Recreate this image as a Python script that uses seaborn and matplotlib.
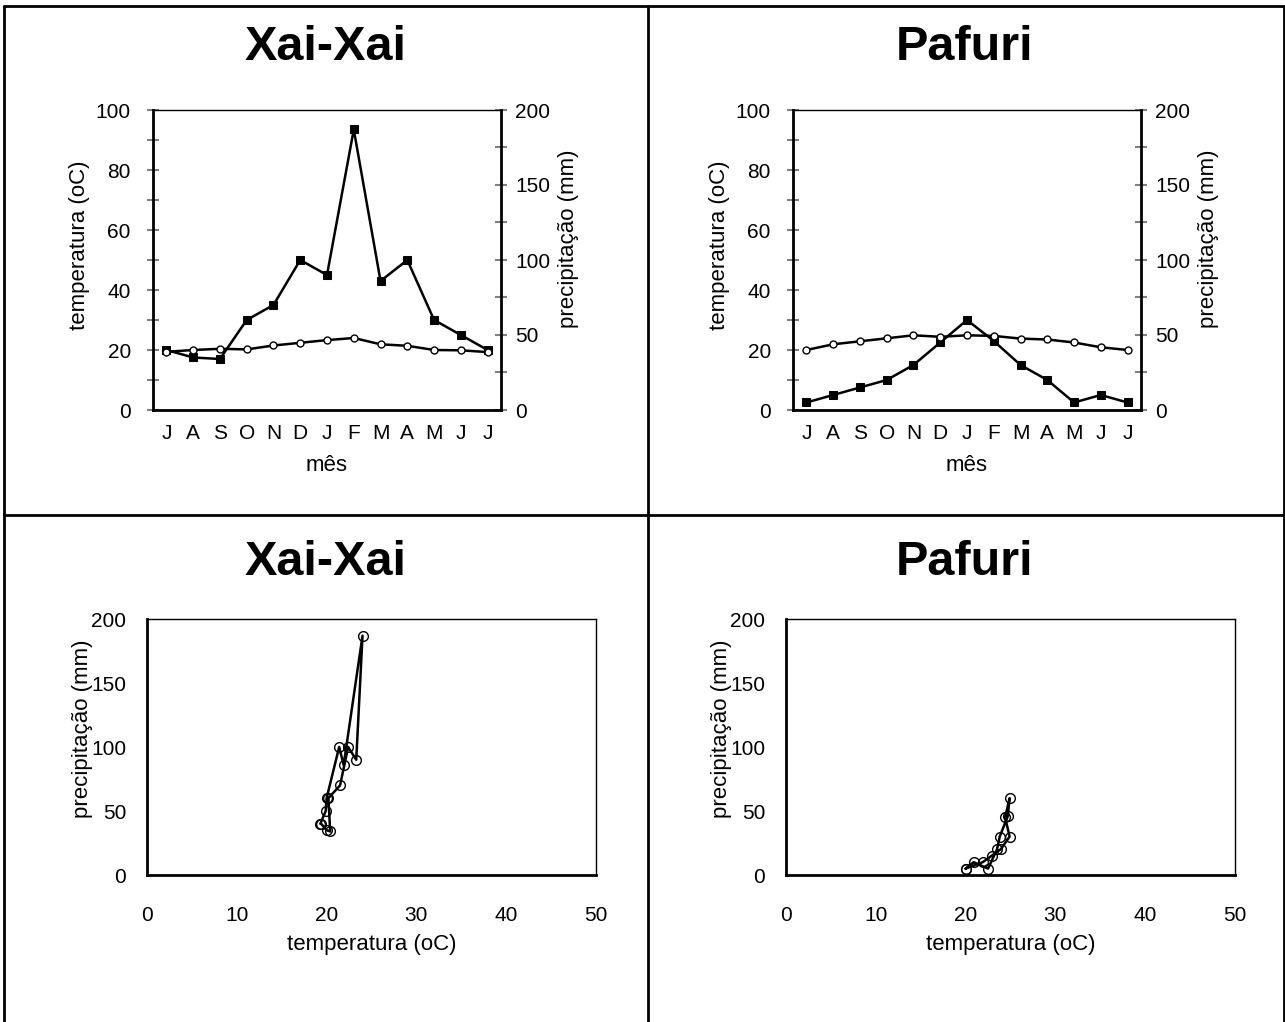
import numpy as np
import pandas as pd
import matplotlib
matplotlib.use("Agg")
import matplotlib.pyplot as plt
from matplotlib.lines import Line2D
from matplotlib.ticker import MultipleLocator
import seaborn as sns

# ---- data ----
months = ['J', 'A', 'S', 'O', 'N', 'D', 'J', 'F', 'M', 'A', 'M', 'J', 'J']
xai_temp = [19.4, 20.0, 20.4, 20.2, 21.5, 22.4, 23.3, 24.0, 21.9, 21.4, 20.0, 19.9, 19.3]
xai_prec = [40, 35, 34, 60, 70, 100, 90, 187, 86, 100, 60, 50, 40]
paf_temp = [20.0, 21.9, 22.9, 23.9, 24.9, 24.4, 24.9, 24.7, 23.8, 23.5, 22.5, 20.9, 20.0]
paf_prec = [5, 10, 15, 20, 30, 45, 60, 46, 30, 20, 5, 10, 5]
stations = ['Xai-Xai', 'Pafuri']
temp_label = 'temperatura (oC)'
prec_label = 'precipitação (mm)'
month_label = 'mês'

sns.set_style("white")
plt.rcParams['font.family'] = ['Liberation Sans', 'DejaVu Sans']
plt.rcParams['text.color'] = 'black'
plt.rcParams['axes.labelcolor'] = 'black'
plt.rcParams['xtick.color'] = 'black'
plt.rcParams['ytick.color'] = 'black'

W, H = 1285, 1022
fig = plt.figure(figsize=(W / 100, H / 100), dpi=100)

def fx(px):
    return px / W

def fy(py):
    return 1 - py / H

TICKC = '#808080'
FS = 15
LFS = 16

def style_ticks(ax, which_axis='both'):
    ax.tick_params(axis=which_axis, which='both', direction='inout', color=TICKC,
                   width=1.5, length=8, labelsize=FS, labelcolor='black')

series = [(xai_temp, xai_prec), (paf_temp, paf_prec)]
top_lefts = [153, 793]
bot_lefts = [147, 786]

for i, (temp, prec) in enumerate(series):
    df = pd.DataFrame({'idx': np.arange(len(months)), 'temp': temp, 'prec': prec})

    # ---- top: time series ----
    L = top_lefts[i]
    ax = fig.add_axes([fx(L), fy(410), fx(348), 300 / H])
    ax2 = ax.twinx()
    sns.lineplot(data=df, x='idx', y='temp', ax=ax, estimator=None, color='black', lw=1.8,
                 marker='o', markersize=5, markerfacecolor='white',
                 markeredgecolor='black', markeredgewidth=1)
    sns.lineplot(data=df, x='idx', y='prec', ax=ax2, estimator=None, color='black', lw=1.8,
                 marker='s', markersize=5.5, markerfacecolor='black',
                 markeredgecolor='black')
    ax.set_xlim(-0.5, len(months) - 0.5)
    ax.set_ylim(0, 100)
    ax2.set_ylim(0, 200)
    ax.set_xticks(np.arange(len(months)))
    ax.set_xticklabels(months)
    ax.yaxis.set_major_locator(MultipleLocator(20))
    ax.yaxis.set_minor_locator(MultipleLocator(10))
    ax2.yaxis.set_major_locator(MultipleLocator(50))
    ax2.yaxis.set_minor_locator(MultipleLocator(25))
    style_ticks(ax)
    style_ticks(ax2)
    ax.tick_params(axis='y', pad=12)
    ax.tick_params(axis='x', pad=6)
    ax2.tick_params(axis='y', pad=6)
    for s in ['left', 'bottom']:
        ax.spines[s].set_linewidth(2)
        ax.spines[s].set_color('black')
    ax.spines['top'].set_linewidth(1)
    ax.spines['top'].set_color('black')
    ax.spines['right'].set_visible(False)
    for s in ['left', 'bottom', 'top']:
        ax2.spines[s].set_visible(False)
    ax2.spines['right'].set_linewidth(2)
    ax2.spines['right'].set_color('black')
    ax.set_xlabel(month_label, fontsize=LFS)
    ax.set_ylabel(temp_label, fontsize=LFS)
    ax2.set_ylabel(prec_label, fontsize=LFS)
    ax.xaxis.set_label_coords(0.5, -0.15)
    ax.yaxis.set_label_coords(-0.18, 0.55)
    ax2.yaxis.set_label_coords(1.165, 0.57)
    ax.set_zorder(ax2.get_zorder() + 1)
    ax.patch.set_visible(False)

    # ---- bottom: precipitation vs temperature ----
    L = bot_lefts[i]
    bx = fig.add_axes([fx(L), fy(875), fx(449), 256 / H])
    sns.lineplot(data=df, x='temp', y='prec', ax=bx, sort=False, estimator=None,
                 color='black', lw=1.8, marker='o', markersize=7,
                 markerfacecolor='none', markeredgecolor='black', markeredgewidth=1)
    bx.set_xlim(0, 50)
    bx.set_ylim(0, 200)
    bx.xaxis.set_major_locator(MultipleLocator(10))
    bx.xaxis.set_minor_locator(MultipleLocator(5))
    bx.yaxis.set_major_locator(MultipleLocator(50))
    bx.yaxis.set_minor_locator(MultipleLocator(25))
    style_ticks(bx)
    bx.tick_params(axis='y', pad=11)
    bx.tick_params(axis='x', pad=18)
    for s in ['left', 'bottom']:
        bx.spines[s].set_linewidth(2)
        bx.spines[s].set_color('black')
    for s in ['top', 'right']:
        bx.spines[s].set_linewidth(1)
        bx.spines[s].set_color('black')
    bx.set_xlabel(temp_label, fontsize=LFS)
    bx.set_ylabel(prec_label, fontsize=LFS)
    bx.xaxis.set_label_coords(0.5, -0.23)
    bx.yaxis.set_label_coords(-0.12, 0.57)

# ---- titles ----
cell_centers = [326, 965]
for i, name in enumerate(stations):
    fig.text(fx(cell_centers[i]), fy(48), name, ha='center', va='center',
             fontsize=35, fontweight='bold', color='black')
    fig.text(fx(cell_centers[i]), fy(562), name, ha='center', va='center',
             fontsize=35, fontweight='bold', color='black')

# ---- table borders ----
def hline(y, x0, x1, lw=2):
    fig.add_artist(Line2D([fx(x0), fx(x1)], [fy(y), fy(y)], color='black', lw=lw))

def vline(x, y0, y1, lw=2):
    fig.add_artist(Line2D([fx(x), fx(x)], [fy(y0), fy(y1)], color='black', lw=lw))

hline(6, 4, 1284)
hline(515, 4, 1284)
vline(4, 6, 1022)
vline(648, 6, 1022)
vline(1283.5, 6, 1022)

fig.savefig('out.png', dpi=100, facecolor='white')
